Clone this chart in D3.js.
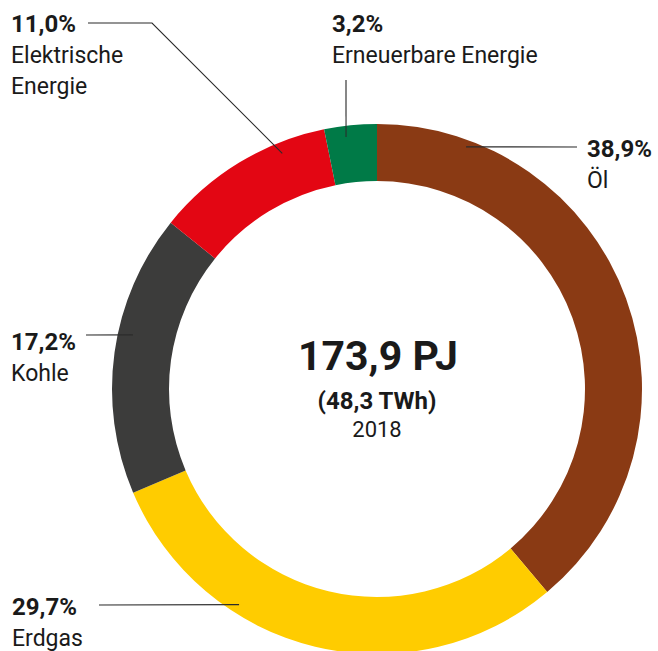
<!DOCTYPE html>
<html>
<head>
<meta charset="utf-8">
<script src="https://cdn.jsdelivr.net/npm/d3@7"></script>
<style>
  html, body { margin: 0; padding: 0; background: #fff; }
  svg { display: block; }
  text { font-family: Roboto, "Noto Sans", sans-serif; fill: #1a1a1a; }
</style>
</head>
<body>
<svg id="chart" width="658" height="651"></svg>
<script>
// ---- data ----
const categories = ["Öl", "Erdgas", "Kohle", "Elektrische Energie", "Erneuerbare Energie"];
const shares = [38.9, 29.7, 17.2, 11.0, 3.2];
const shareLabels = ["38,9%", "29,7%", "17,2%", "11,0%", "3,2%"];
const nameLines = [["Öl"], ["Erdgas"], ["Kohle"], ["Elektrische", "Energie"], ["Erneuerbare Energie"]];
const colors = ["#8a3a14", "#ffcc00", "#3c3c3b", "#e30613", "#007a47"];
const centerTitle = "173,9 PJ";
const centerSub = "(48,3 TWh)";
const centerYear = "2018";

// ---- layout ----
const W = 658, H = 651;
const cx = 377, cy = 389, rOuter = 265, rInner = 208;
// label layout: text x, first baseline y, leader polyline start points, end given as angle (deg, clockwise from top) + radius
const labelLayout = [
  { x: 587, y: 157, leader: [[577, 147]], end: { a: 20.2, r: 258 } },
  { x: 12,  y: 615, leader: [[99, 605]],  end: { a: 212.6, r: 256 } },
  { x: 11,  y: 350, leader: [[86, 335]],  end: { a: 282.5, r: 250 } },
  { x: 11,  y: 32,  leader: [[88, 23], [152, 23]], end: { a: 338.1, r: 254 } },
  { x: 332, y: 32,  leader: [[346, 80]], end: { a: 353.0, r: 254 } }
];
const lineGap = 31;

const svg = d3.select("#chart");
const g = svg.append("g").attr("transform", `translate(${cx},${cy})`);

const pie = d3.pie().sort(null).value(d => d);
const arc = d3.arc().innerRadius(rInner).outerRadius(rOuter);
const arcs = pie(shares);

g.selectAll("path.slice")
  .data(arcs)
  .join("path")
  .attr("class", "slice")
  .attr("d", arc)
  .attr("fill", (d, i) => colors[i]);

// leader lines
const toXY = (a, r) => {
  const rad = a * Math.PI / 180;
  return [cx + r * Math.sin(rad), cy - r * Math.cos(rad)];
};
labelLayout.forEach((L, i) => {
  const pts = L.leader.concat([toXY(L.end.a, L.end.r)]);
  svg.append("path")
    .attr("d", d3.line()(pts))
    .attr("fill", "none")
    .attr("stroke", "#2b2b2b")
    .attr("stroke-width", 1.1);
});

// labels
labelLayout.forEach((L, i) => {
  const t = svg.append("text").attr("x", L.x).attr("y", L.y);
  t.append("tspan").attr("x", L.x).attr("y", L.y)
    .attr("font-weight", "bold").attr("font-size", 24)
    .text(shareLabels[i]);
  nameLines[i].forEach((ln, k) => {
    t.append("tspan").attr("x", L.x).attr("y", L.y + lineGap * (k + 1))
      .attr("font-size", 23)
      .text(ln);
  });
});

// center text
svg.append("text").attr("x", 378).attr("y", 370).attr("text-anchor", "middle")
  .attr("font-size", 41).attr("font-weight", "bold").text(centerTitle);
svg.append("text").attr("x", 377).attr("y", 409).attr("text-anchor", "middle")
  .attr("font-size", 24).attr("font-weight", "bold").text(centerSub);
svg.append("text").attr("x", 377).attr("y", 437).attr("text-anchor", "middle")
  .attr("font-size", 22).text(centerYear);
</script>
</body>
</html>
